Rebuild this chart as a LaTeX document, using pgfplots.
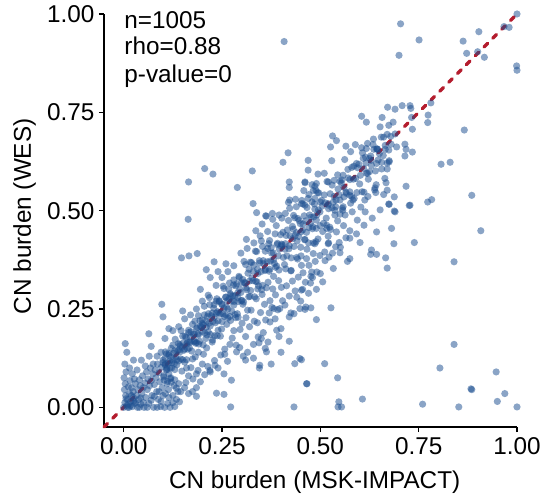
\documentclass[border=0pt]{standalone}
\usepackage{fontspec}
\setmainfont{Liberation Sans}
\usepackage{pgfplots}
\pgfplotsset{compat=1.18}
\definecolor{ptblue}{RGB}{30,80,145}
\definecolor{diagred}{RGB}{180,28,45}
\newcommand{\fs}{\fontsize{24.3}{28}\selectfont}
\begin{document}
\begin{tikzpicture}
\begin{axis}[
  scale only axis, width=413pt, height=413pt,
  xmin=-0.05, xmax=1, ymin=-0.05, ymax=1,
  axis x line*=bottom, axis y line*=left,
  axis line style={line width=1.4pt,-},
  every tick/.style={line width=1.4pt, black},
  tick align=outside, major tick length=5pt,
  xtick={0,0.25,0.5,0.75,1}, xticklabels={0.00,0.25,0.50,0.75,1.00},
  ytick={0,0.25,0.5,0.75,1}, yticklabels={0.00,0.25,0.50,0.75,1.00},
  tick label style={font=\fs},
  xticklabel style={yshift=-2pt},
  yticklabel style={xshift=-1pt},
  /pgf/number format/assume math mode=true,
  clip=false,
  xlabel={CN burden (MSK-IMPACT)}, ylabel={CN burden (WES)},
  label style={font=\fs},
  xlabel style={at={(axis description cs:0.51,0)}, anchor=base, yshift=-61pt},
  ylabel style={at={(axis description cs:-0.177,0.51)}, anchor=base},
]
\addplot[only marks, mark=*, mark size=3.6pt, color=ptblue, mark options={fill=ptblue, fill opacity=0.52, draw opacity=0}] coordinates {
(0.000,0.000)(0.003,0.012)(0.005,0.030)(0.002,0.045)(0.004,0.060)(0.001,0.075)(0.006,0.090)(0.003,0.110)(0.008,0.005)(0.010,0.020)(0.012,0.008)(0.015,0.035)(0.014,0.000)(0.018,0.015)(0.020,0.050)(0.022,0.002)(0.025,0.025)(0.024,0.040)(0.028,0.010)(0.030,0.060)(0.032,0.030)(0.035,0.000)(0.036,0.045)(0.038,0.020)(0.040,0.070)(0.042,0.055)(0.044,0.008)(0.046,0.035)(0.048,0.080)(0.050,0.050)(0.052,0.000)(0.054,0.062)(0.056,0.025)(0.058,0.090)(0.060,0.045)(0.062,0.072)(0.064,0.010)(0.066,0.055)(0.068,0.100)(0.070,0.068)(0.072,0.030)(0.074,0.085)(0.076,0.000)(0.078,0.058)(0.080,0.095)(0.082,0.075)(0.084,0.040)(0.086,0.110)(0.088,0.020)(0.090,0.088)(0.092,0.065)(0.094,0.002)(0.096,0.102)(0.098,0.050)(0.100,0.120)(0.102,0.080)(0.104,0.000)(0.106,0.035)(0.108,0.095)(0.110,0.060)(0.112,0.010)(0.114,0.045)(0.118,0.000)(0.120,0.075)(0.125,0.030)(0.128,0.055)(0.130,0.002)(0.134,0.020)(0.138,0.040)(0.012,0.052)(0.016,0.068)(0.022,0.085)(0.027,0.072)(0.034,0.095)(0.008,0.140)(0.015,0.100)(0.045,0.120)(0.055,0.105)(0.065,0.130)(0.040,0.000)(0.060,0.000)(0.085,0.000)(0.095,0.015)(0.010,0.000)(0.020,0.030)(0.030,0.012)(0.006,0.022)(0.017,0.004)(0.026,0.016)(0.043,0.024)(0.050,0.012)(0.070,0.018)(0.078,0.028)(0.090,0.040)(0.100,0.030)(0.115,0.085)(0.122,0.100)(0.105,0.125)(0.075,0.110)(0.085,0.130)(0.095,0.140)(0.070,0.155)(0.025,0.120)
(0.100,0.114)(0.102,0.077)(0.105,0.110)(0.106,0.141)(0.110,0.100)(0.112,0.066)(0.115,0.137)(0.117,0.118)(0.118,0.100)(0.121,0.150)(0.125,0.120)(0.127,0.137)(0.130,0.096)(0.131,0.173)(0.135,0.121)(0.137,0.144)(0.140,0.118)(0.142,0.160)(0.143,0.141)(0.146,0.195)(0.150,0.121)(0.152,0.164)(0.155,0.148)(0.156,0.181)(0.160,0.121)(0.162,0.165)(0.165,0.196)(0.167,0.151)(0.168,0.167)(0.171,0.192)(0.175,0.123)(0.177,0.186)(0.180,0.169)(0.181,0.219)(0.185,0.165)(0.187,0.203)(0.190,0.184)(0.191,0.161)(0.194,0.220)(0.198,0.204)
(0.200,0.213)(0.202,0.159)(0.205,0.257)(0.206,0.189)(0.210,0.219)(0.212,0.184)(0.215,0.238)(0.217,0.214)(0.218,0.279)(0.221,0.185)(0.225,0.240)(0.227,0.218)(0.230,0.261)(0.231,0.182)(0.235,0.239)(0.237,0.276)(0.240,0.220)(0.242,0.241)(0.243,0.269)(0.246,0.181)(0.250,0.261)(0.252,0.238)(0.255,0.302)(0.256,0.231)(0.260,0.280)(0.262,0.255)(0.265,0.227)(0.267,0.300)(0.268,0.276)(0.271,0.289)(0.275,0.244)(0.277,0.283)(0.280,0.324)(0.281,0.269)(0.285,0.228)(0.287,0.314)(0.290,0.291)(0.291,0.269)(0.294,0.330)(0.298,0.292)
(0.103,0.069)(0.105,0.108)(0.109,0.136)(0.110,0.096)(0.113,0.112)(0.115,0.133)(0.119,0.073)(0.120,0.128)(0.123,0.113)(0.125,0.158)(0.129,0.111)(0.130,0.144)(0.133,0.128)(0.135,0.108)(0.139,0.162)(0.140,0.146)(0.143,0.156)(0.145,0.123)(0.149,0.153)(0.150,0.181)(0.153,0.145)(0.155,0.115)(0.159,0.178)(0.160,0.161)(0.163,0.148)(0.165,0.190)(0.169,0.165)(0.170,0.179)(0.173,0.143)(0.175,0.211)(0.179,0.167)(0.180,0.186)(0.183,0.163)(0.185,0.201)(0.189,0.187)(0.190,0.233)(0.193,0.168)(0.195,0.206)(0.199,0.193)(0.200,0.222)
(0.203,0.210)(0.205,0.235)(0.209,0.175)(0.210,0.204)(0.213,0.231)(0.215,0.192)(0.219,0.261)(0.220,0.207)(0.223,0.233)(0.225,0.166)(0.229,0.252)(0.230,0.229)(0.233,0.215)(0.235,0.270)(0.239,0.243)(0.240,0.196)(0.243,0.271)(0.245,0.237)(0.249,0.263)(0.250,0.218)(0.253,0.308)(0.255,0.252)(0.259,0.280)(0.260,0.235)(0.263,0.271)(0.265,0.250)(0.269,0.316)(0.270,0.231)(0.273,0.285)(0.275,0.270)(0.279,0.311)(0.280,0.260)(0.283,0.284)(0.285,0.309)(0.289,0.238)(0.290,0.279)(0.293,0.333)(0.295,0.300)(0.299,0.271)(0.300,0.316)
(0.105,0.175)(0.125,0.195)(0.140,0.205)(0.115,0.200)(0.155,0.225)(0.170,0.235)(0.185,0.250)(0.200,0.270)(0.215,0.285)(0.150,0.245)(0.235,0.310)(0.250,0.330)(0.265,0.345)(0.280,0.360)(0.195,0.300)(0.220,0.330)(0.240,0.345)(0.260,0.365)(0.210,0.350)(0.230,0.370)
(0.121,0.064)(0.134,0.049)(0.148,0.092)(0.158,0.063)(0.171,0.101)(0.176,0.072)(0.182,0.128)(0.189,0.094)(0.203,0.135)(0.206,0.083)(0.211,0.151)(0.214,0.104)(0.226,0.171)(0.231,0.119)(0.238,0.182)(0.247,0.133)(0.249,0.199)(0.257,0.148)(0.262,0.211)(0.264,0.117)(0.272,0.221)(0.276,0.176)(0.283,0.236)(0.286,0.158)(0.291,0.229)(0.296,0.198)(0.301,0.214)(0.145,0.040)(0.165,0.035)(0.185,0.050)(0.195,0.065)(0.220,0.090)(0.240,0.100)(0.255,0.085)(0.270,0.160)(0.130,0.070)(0.160,0.100)(0.190,0.140)(0.200,0.110)(0.280,0.195)(0.125,0.012)(0.115,0.025)(0.140,0.060)(0.155,0.050)(0.165,0.080)(0.175,0.040)(0.185,0.085)
(0.303,0.325)(0.305,0.268)(0.309,0.316)(0.310,0.363)(0.313,0.299)(0.315,0.247)(0.319,0.351)(0.320,0.321)(0.323,0.297)(0.325,0.368)(0.329,0.322)(0.330,0.346)(0.333,0.281)(0.335,0.397)(0.339,0.319)(0.340,0.351)(0.343,0.309)(0.345,0.373)(0.349,0.345)(0.350,0.423)(0.353,0.310)(0.355,0.373)(0.359,0.348)(0.360,0.397)(0.363,0.304)(0.365,0.370)(0.369,0.416)(0.370,0.346)(0.373,0.372)(0.375,0.406)(0.379,0.301)(0.380,0.393)(0.383,0.366)(0.385,0.441)(0.389,0.359)(0.390,0.414)(0.393,0.385)(0.395,0.349)(0.399,0.439)(0.400,0.410)
(0.403,0.413)(0.405,0.445)(0.409,0.363)(0.410,0.402)(0.413,0.437)(0.415,0.385)(0.419,0.475)(0.420,0.403)(0.423,0.436)(0.425,0.347)(0.429,0.460)(0.430,0.429)(0.433,0.409)(0.435,0.482)(0.439,0.444)(0.440,0.381)(0.443,0.480)(0.445,0.434)(0.449,0.467)(0.450,0.407)(0.453,0.526)(0.455,0.451)(0.459,0.487)(0.460,0.426)(0.463,0.474)(0.465,0.445)(0.469,0.531)(0.470,0.418)(0.473,0.489)(0.475,0.468)(0.479,0.522)(0.480,0.454)(0.483,0.484)(0.485,0.517)(0.489,0.421)(0.490,0.476)(0.493,0.546)(0.495,0.502)(0.499,0.462)(0.500,0.522)
(0.301,0.272)(0.306,0.318)(0.311,0.304)(0.316,0.341)(0.321,0.282)(0.326,0.329)(0.331,0.362)(0.336,0.320)(0.341,0.340)(0.346,0.367)(0.351,0.299)(0.356,0.365)(0.361,0.350)(0.366,0.404)(0.371,0.351)(0.376,0.392)(0.381,0.375)(0.386,0.356)(0.391,0.417)(0.396,0.402)(0.401,0.415)(0.406,0.381)(0.411,0.416)(0.416,0.451)(0.421,0.411)(0.426,0.380)(0.431,0.453)(0.436,0.437)(0.441,0.423)(0.446,0.475)(0.451,0.446)(0.456,0.466)(0.461,0.427)(0.466,0.508)(0.471,0.457)(0.476,0.483)(0.481,0.459)(0.486,0.504)(0.491,0.489)(0.496,0.545)
(0.306,0.371)(0.314,0.404)(0.322,0.369)(0.331,0.418)(0.338,0.396)(0.347,0.436)(0.353,0.409)(0.366,0.447)(0.371,0.424)(0.379,0.478)(0.388,0.462)(0.402,0.481)(0.411,0.493)(0.419,0.521)(0.432,0.488)(0.437,0.529)(0.452,0.518)(0.458,0.551)(0.471,0.541)(0.479,0.566)(0.489,0.552)(0.336,0.449)(0.352,0.466)(0.361,0.487)(0.298,0.392)(0.312,0.427)
(0.303,0.262)(0.311,0.228)(0.318,0.281)(0.324,0.247)(0.332,0.219)(0.337,0.276)(0.341,0.301)(0.348,0.241)(0.352,0.287)(0.358,0.262)(0.361,0.222)(0.367,0.318)(0.372,0.271)(0.377,0.254)(0.381,0.333)(0.386,0.286)(0.392,0.248)(0.394,0.322)(0.401,0.305)(0.404,0.271)(0.412,0.352)(0.414,0.309)(0.421,0.283)(0.426,0.348)(0.429,0.321)(0.436,0.296)(0.442,0.377)(0.444,0.331)(0.451,0.385)(0.456,0.342)(0.462,0.318)(0.466,0.402)(0.471,0.361)(0.476,0.333)(0.482,0.418)(0.487,0.371)(0.491,0.344)(0.494,0.428)(0.499,0.386)
(0.320,0.205)(0.340,0.215)(0.355,0.190)(0.370,0.240)(0.385,0.225)(0.400,0.200)(0.410,0.260)(0.425,0.240)(0.440,0.280)(0.455,0.300)(0.470,0.290)(0.310,0.180)(0.330,0.160)(0.350,0.175)(0.360,0.150)(0.395,0.180)(0.400,0.140)(0.375,0.110)(0.330,0.125)(0.345,0.100)(0.315,0.140)(0.450,0.270)(0.480,0.330)(0.490,0.300)(0.500,0.340)
(0.503,0.526)(0.508,0.468)(0.512,0.520)(0.517,0.574)(0.521,0.505)(0.526,0.452)(0.530,0.565)(0.535,0.536)(0.539,0.510)(0.544,0.591)(0.548,0.540)(0.553,0.570)(0.557,0.501)(0.562,0.630)(0.566,0.544)(0.571,0.583)(0.575,0.539)(0.580,0.610)(0.584,0.580)(0.589,0.668)(0.593,0.546)(0.598,0.618)(0.602,0.590)(0.607,0.647)(0.611,0.547)(0.616,0.621)(0.620,0.671)(0.625,0.599)(0.629,0.628)(0.634,0.668)(0.638,0.553)(0.643,0.657)(0.647,0.629)(0.652,0.713)(0.656,0.623)(0.661,0.687)(0.665,0.656)(0.670,0.621)(0.674,0.717)(0.679,0.689)
(0.505,0.512)(0.510,0.540)(0.515,0.481)(0.520,0.514)(0.525,0.543)(0.530,0.507)(0.535,0.577)(0.540,0.527)(0.545,0.555)(0.550,0.491)(0.555,0.578)(0.560,0.559)(0.565,0.547)(0.570,0.605)(0.575,0.579)(0.580,0.536)(0.585,0.613)(0.590,0.582)(0.595,0.609)(0.600,0.568)(0.605,0.660)(0.610,0.607)(0.615,0.636)(0.620,0.595)(0.625,0.633)(0.630,0.615)(0.635,0.682)(0.640,0.601)(0.645,0.657)(0.650,0.645)(0.655,0.687)(0.660,0.640)(0.665,0.666)(0.670,0.694)(0.675,0.624)(0.680,0.669)(0.685,0.725)(0.690,0.695)
(0.506,0.447)(0.516,0.463)(0.524,0.458)(0.537,0.489)(0.544,0.474)(0.556,0.506)(0.563,0.489)(0.577,0.519)(0.586,0.531)(0.594,0.476)(0.606,0.548)(0.614,0.497)(0.521,0.418)(0.541,0.446)(0.559,0.462)(0.581,0.497)(0.603,0.509)(0.621,0.536)(0.642,0.566)(0.661,0.541)(0.531,0.392)(0.551,0.407)(0.512,0.373)(0.592,0.441)(0.611,0.463)(0.632,0.481)(0.652,0.502)(0.601,0.419)
(0.704,0.975)(0.751,0.934)(0.700,0.895)(0.863,0.931)(0.903,0.955)(0.872,0.900)(0.917,0.890)(0.900,0.904)(0.967,0.968)(0.980,0.966)(1.000,1.000)(0.999,0.868)(1.000,0.857)(0.866,0.705)(0.807,0.618)(0.830,0.623)(0.885,0.539)
(0.605,0.740)(0.617,0.725)(0.671,0.763)(0.690,0.758)(0.708,0.767)(0.728,0.767)(0.730,0.760)(0.657,0.737)(0.732,0.737)(0.774,0.743)(0.773,0.724)(0.781,0.774)(0.734,0.707)
(0.531,0.690)(0.541,0.678)(0.526,0.662)(0.565,0.664)(0.577,0.650)(0.617,0.658)(0.636,0.656)(0.645,0.656)(0.674,0.654)(0.694,0.662)(0.715,0.669)(0.718,0.656)(0.715,0.639)(0.734,0.649)
(0.469,0.628)(0.529,0.627)(0.592,0.620)(0.609,0.633)(0.628,0.639)(0.643,0.620)(0.656,0.606)(0.670,0.606)(0.675,0.627)(0.469,0.603)(0.494,0.593)(0.510,0.595)(0.558,0.590)(0.617,0.595)(0.622,0.580)(0.664,0.582)(0.667,0.571)(0.670,0.552)(0.718,0.562)(0.639,0.558)(0.641,0.546)(0.613,0.527)(0.688,0.535)(0.674,0.517)(0.688,0.499)(0.728,0.514)(0.773,0.522)(0.783,0.528)
(0.461,0.571)(0.486,0.562)(0.520,0.573)(0.550,0.575)(0.575,0.548)(0.560,0.535)(0.550,0.527)(0.533,0.522)(0.583,0.527)(0.486,0.531)(0.520,0.518)(0.537,0.501)(0.558,0.510)(0.499,0.497)(0.461,0.514)
(0.675,0.516)(0.690,0.497)(0.726,0.513)(0.908,0.449)(0.643,0.446)(0.681,0.455)(0.687,0.416)(0.739,0.419)(0.630,0.400)(0.628,0.389)(0.643,0.389)(0.666,0.380)(0.670,0.354)(0.840,0.370)
(0.575,0.449)(0.565,0.431)(0.575,0.430)(0.548,0.419)(0.539,0.408)(0.550,0.393)(0.575,0.378)(0.569,0.371)(0.520,0.435)(0.516,0.455)(0.490,0.455)(0.520,0.416)(0.511,0.395)(0.522,0.382)(0.533,0.353)
(0.486,0.416)(0.482,0.391)(0.465,0.378)(0.478,0.344)(0.452,0.361)(0.506,0.319)(0.475,0.316)(0.452,0.298)(0.476,0.253)(0.461,0.249)(0.527,0.253)(0.490,0.223)
(0.840,0.160)(0.511,0.111)(0.452,0.121)(0.804,0.100)(0.947,0.090)(0.544,0.075)(0.466,0.060)(0.883,0.047)(0.885,0.045)(0.969,0.035)(0.950,0.015)(0.607,0.021)(0.547,0.014)(0.545,0.001)(0.554,0.001)(0.760,0.008)(0.852,0.001)(1.000,0.001)
(0.408,0.930)(0.418,0.647)(0.405,0.623)(0.206,0.607)(0.227,0.593)(0.327,0.601)(0.165,0.573)(0.289,0.559)(0.421,0.573)(0.421,0.559)(0.461,0.573)(0.482,0.551)(0.490,0.569)
(0.329,0.518)(0.338,0.495)(0.378,0.493)(0.363,0.486)(0.422,0.527)(0.422,0.506)(0.439,0.510)(0.456,0.517)(0.395,0.489)
(0.164,0.478)(0.147,0.380)(0.166,0.385)(0.187,0.391)(0.097,0.262)(0.004,0.162)(0.064,0.187)(0.100,0.230)(0.272,0.001)(0.433,0.001)(0.465,0.060)(0.435,0.111)(0.448,0.124)(0.346,0.107)(0.421,0.168)(0.274,0.069)(0.185,0.028)(0.236,0.036)(0.255,0.033)(0.142,0.014)(0.363,0.141)(0.367,0.166)(0.304,0.130)(0.310,0.120)(0.295,0.152)(0.287,0.141)(0.257,0.135)(0.342,0.179)(0.344,0.164)(0.232,0.107)(0.219,0.094)
(0.421,0.230)(0.433,0.238)(0.448,0.251)(0.463,0.255)(0.397,0.251)(0.382,0.251)(0.372,0.217)(0.389,0.196)
};
\addplot[diagred, line width=3.3pt, line cap=round, dash pattern=on 5pt off 7.5pt] coordinates {(-0.05,-0.05) (1,1)};
\node[anchor=base west, font=\fs] at (axis description cs:0.041,0.966) {n=1005};
\node[anchor=base west, font=\fs] at (axis description cs:0.041,0.901) {rho=0.88};
\node[anchor=base west, font=\fs] at (axis description cs:0.041,0.835) {p-value=0};
\end{axis}
\pgfresetboundingbox
\path[use as bounding box] (-104pt,-68pt) rectangle (439pt,427pt);
\end{tikzpicture}
\end{document}
